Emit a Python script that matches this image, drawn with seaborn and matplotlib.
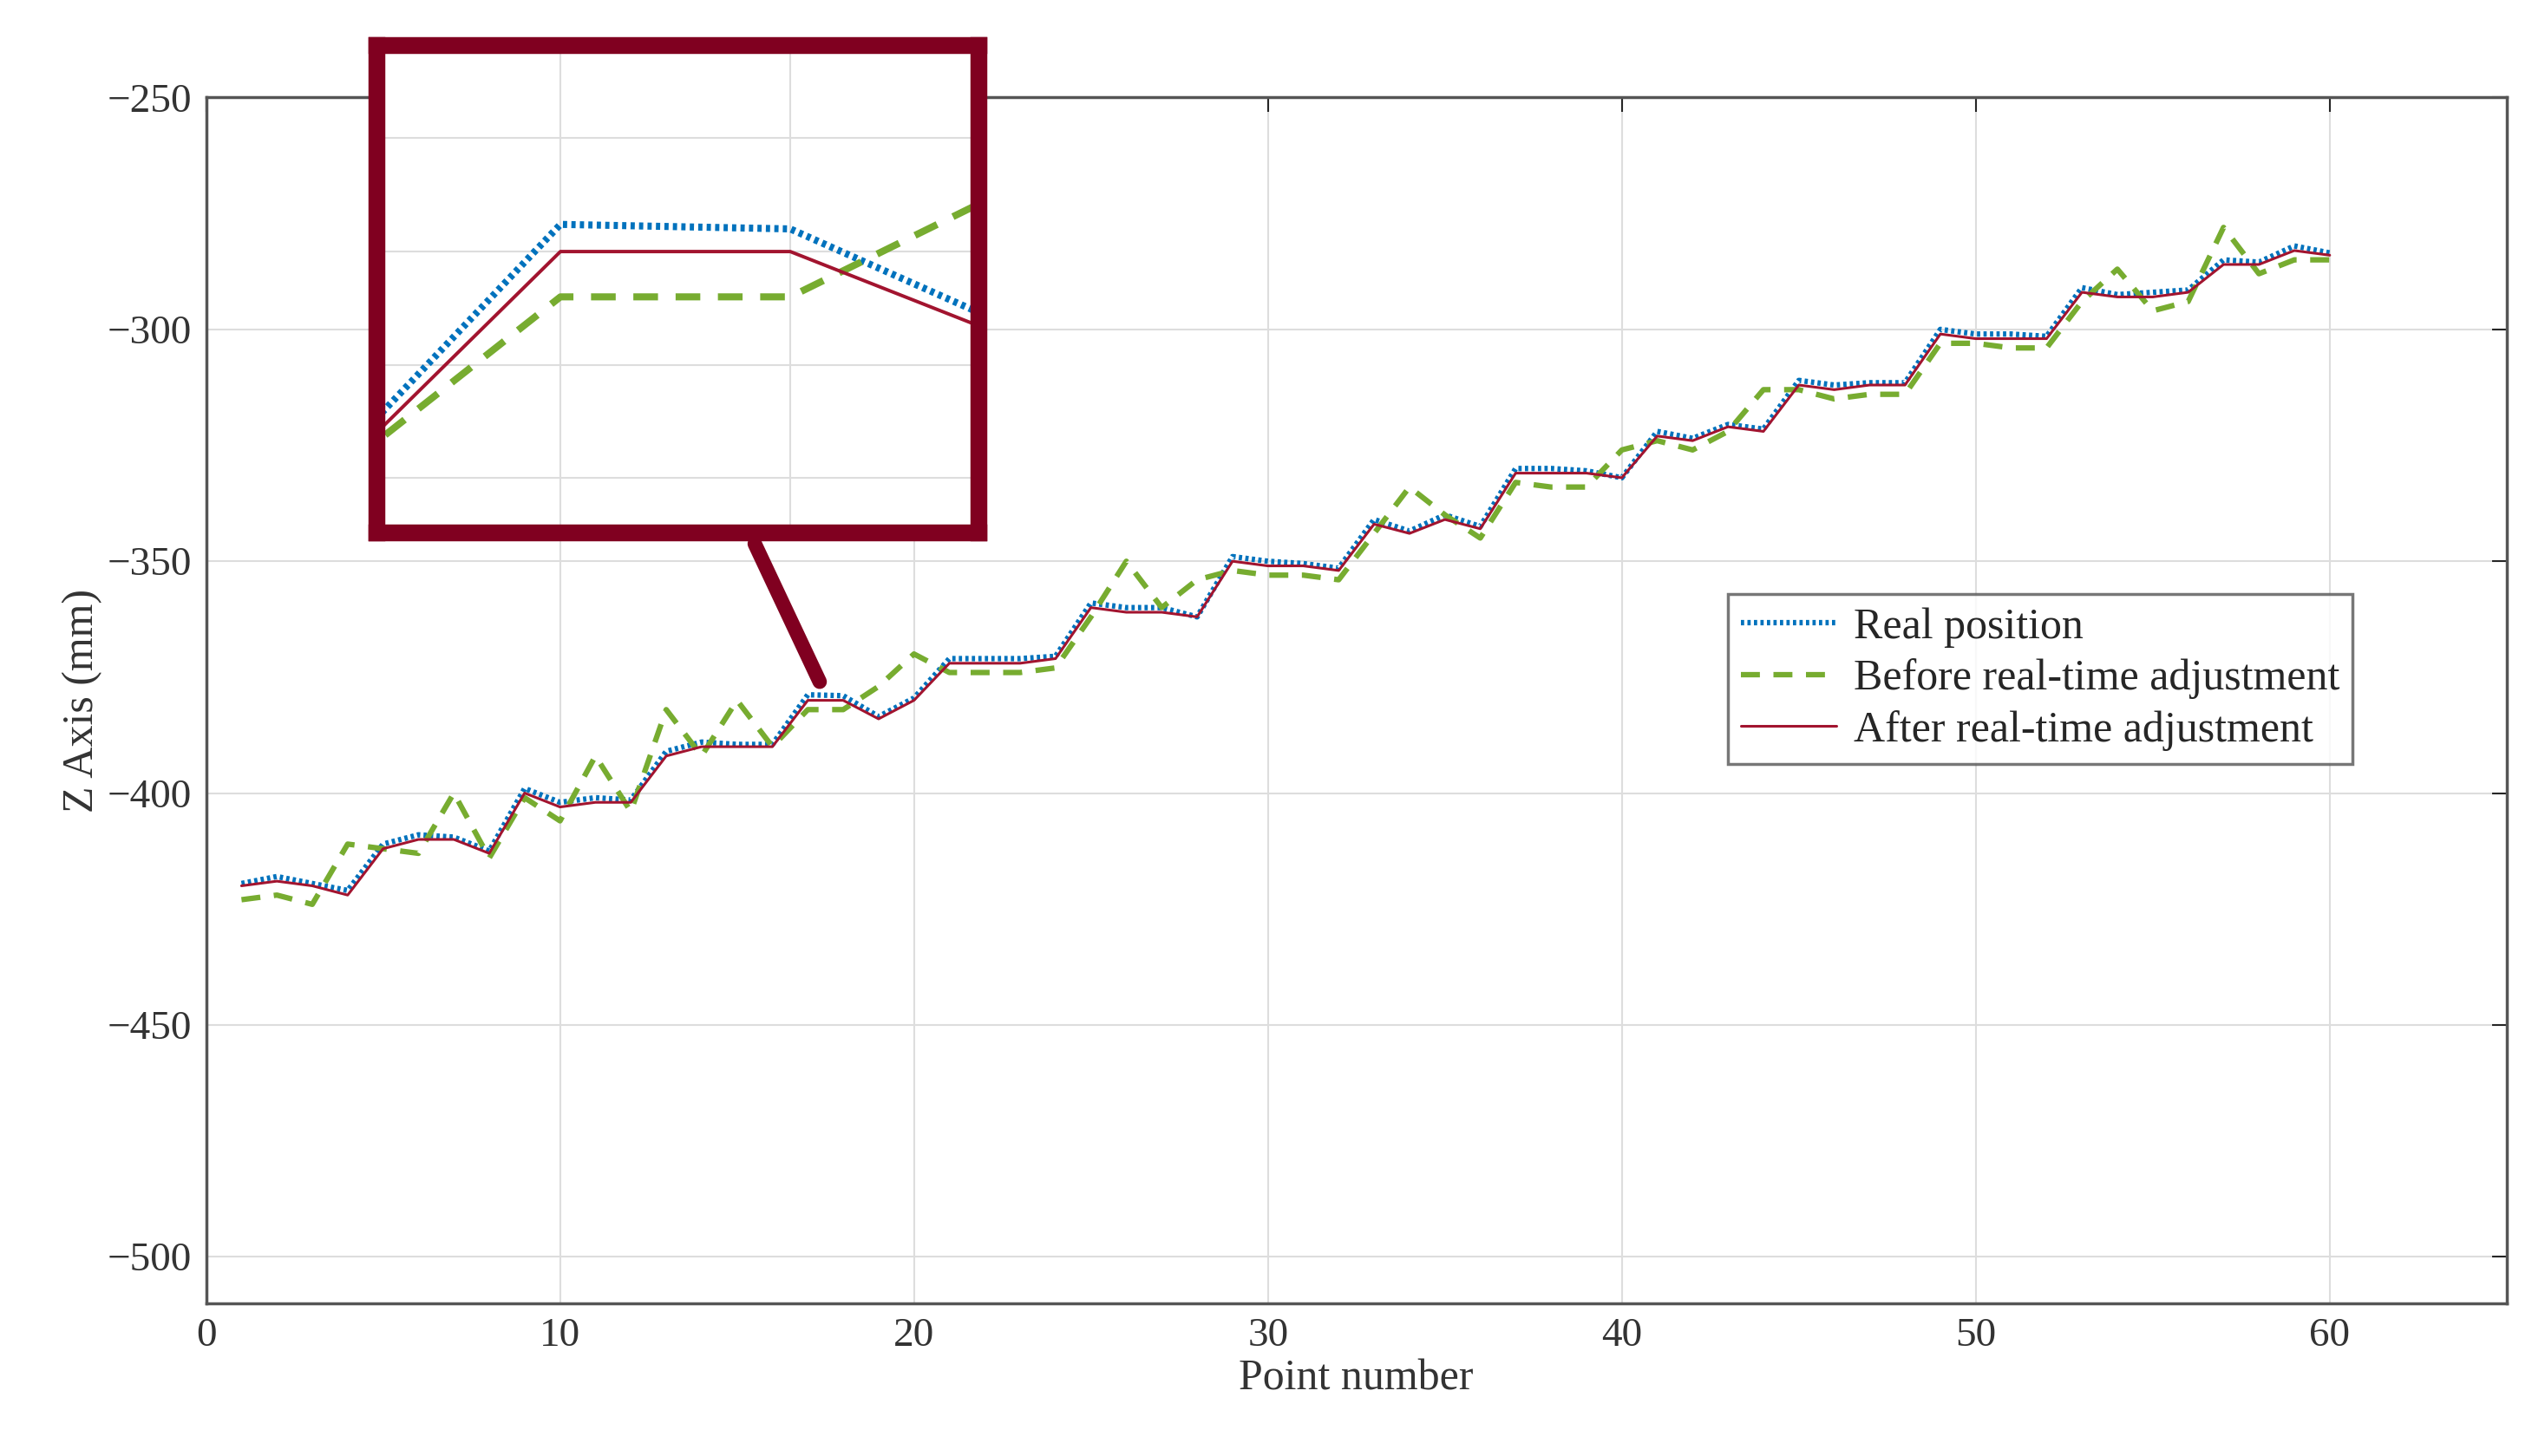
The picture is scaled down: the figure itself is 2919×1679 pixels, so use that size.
import numpy as np
import pandas as pd
import matplotlib
matplotlib.use("Agg")
import matplotlib.pyplot as plt
import seaborn as sns
from matplotlib.lines import Line2D

points = list(range(1, 61))
after = [-420, -419, -420, -422, -412, -410, -410, -413, -400, -403,
         -402, -402, -392, -390, -390, -390, -380, -380, -384, -380,
         -372, -372, -372, -371, -360, -361, -361, -362, -350, -351,
         -351, -352, -342, -344, -341, -343, -331, -331, -331, -332,
         -323, -324, -321, -322, -312, -313, -312, -312, -301, -302,
         -302, -302, -292, -293, -293, -292, -286, -286, -283, -284]
real = [-419.5, -418, -419.5, -421, -411, -409, -409.5, -412.5, -399, -402,
        -401, -401.5, -391, -389, -389.5, -389.5, -378.8, -379, -383.5, -379.5,
        -371, -371, -371, -370.5, -359, -360, -360, -362, -349, -350,
        -350.5, -351.5, -341, -343.5, -340, -342.5, -330, -330, -330.5, -332,
        -322, -323.5, -320.5, -321.5, -311, -312, -311.5, -311.5, -300, -301,
        -301, -301.5, -291, -292.5, -292, -291.5, -285, -285.5, -282, -283.5]
before = [-423, -422, -424, -411, -412, -413, -400, -414, -401, -406,
          -392, -404, -382, -392, -380, -390, -382, -382, -377, -370,
          -374, -374, -374, -373, -362, -350, -360, -354, -352, -353,
          -353, -354, -344, -334, -340, -345, -333, -334, -334, -326,
          -324, -326, -322, -313, -313, -315, -314, -314, -303, -303,
          -304, -304, -294, -287, -296, -294, -278, -288, -285, -285]
series_names = ["Real position", "Before real-time adjustment", "After real-time adjustment"]
x_ticks = [0, 10, 20, 30, 40, 50, 60]
y_ticks = [-500, -450, -400, -350, -300, -250]

df = pd.DataFrame({"x": points * 3,
                   "y": real + before + after,
                   "s": [series_names[0]] * 60 + [series_names[1]] * 60 + [series_names[2]] * 60})

sns.set_theme(style="white")
plt.rcParams['font.family'] = ['Liberation Serif', 'DejaVu Serif']
plt.rcParams['mathtext.fontset'] = 'stix'

palette = {series_names[0]: "#0072BD", series_names[1]: "#77AC30", series_names[2]: "#A2142F"}
dashes = {series_names[0]: (0.6, 0.6), series_names[1]: (3.5, 2.5), series_names[2]: ""}
widths = {series_names[0]: 4.5, series_names[1]: 4.5, series_names[2]: 2.2}

fig = plt.figure(figsize=(29.19, 16.79), dpi=100)
ax = fig.add_axes([0.0814, 0.105, 0.9086, 0.828])

def draw(a, lw_scale=1.0):
    for name in series_names:
        sub = df[df.s == name]
        sns.lineplot(data=sub, x="x", y="y", ax=a, color=palette[name],
                     dashes=False, lw=widths[name] * lw_scale, label=name, legend=False)
        ln = a.get_lines()[-1]
        if dashes[name]:
            ln.set_dashes(dashes[name])

draw(ax)
ax.set_xlim(0, 65)
ax.set_ylim(-510, -250)
ax.set_xticks(x_ticks)
ax.set_yticks(y_ticks)
ax.grid(True, color="#dddddd", lw=1.5)
ax.tick_params(direction="in", length=12, width=1.5, labelsize=34, top=True, right=True, pad=12)
for s in ax.spines.values():
    s.set_color("#555555"); s.set_linewidth(2.5)
ax.set_xlabel("Point number", fontsize=36, color="#333333")
ax.set_ylabel("Z Axis (mm)", fontsize=36, color="#333333")
for t in ax.get_xticklabels() + ax.get_yticklabels():
    t.set_color("#333333")

handles = [Line2D([], [], color=palette[n], lw=widths[n], dashes=dashes[n] if dashes[n] else (None, None)) for n in series_names]
for h, n in zip(handles, series_names):
    if not dashes[n]:
        h.set_linestyle("-")
leg = ax.legend(handles, series_names, loc="upper left", bbox_to_anchor=(0.652, 0.606),
                fontsize=36, frameon=True, fancybox=False, handlelength=2.2,
                borderpad=0.3, labelspacing=0.25, handletextpad=0.4)
leg.get_frame().set_edgecolor("#555555"); leg.get_frame().set_linewidth(2.5)

# inset
ins = fig.add_axes([232/1560, 1-328/897, (603-232)/1560, (328-28)/897])
draw(ins, 1.3)
ins.set_xlim(16.2, 18.82)
ins.set_ylim(-392.4, -370.9)
ins.set_xlabel(""); ins.set_ylabel("")
ins.set_xticks([17, 18]); ins.set_yticks([-390, -385, -380, -375])
ins.set_xticklabels([]); ins.set_yticklabels([])
ins.tick_params(length=0)
ins.grid(True, color="#dddddd", lw=1.5)
for s in ins.spines.values():
    s.set_color("#800020"); s.set_linewidth(14)

fig.add_artist(Line2D([465/1560, 505/1560], [1-335/897, 1-420/897], color="#800020", lw=12,
                      transform=fig.transFigure))

fig.savefig("out.png", dpi=100, facecolor="white")
